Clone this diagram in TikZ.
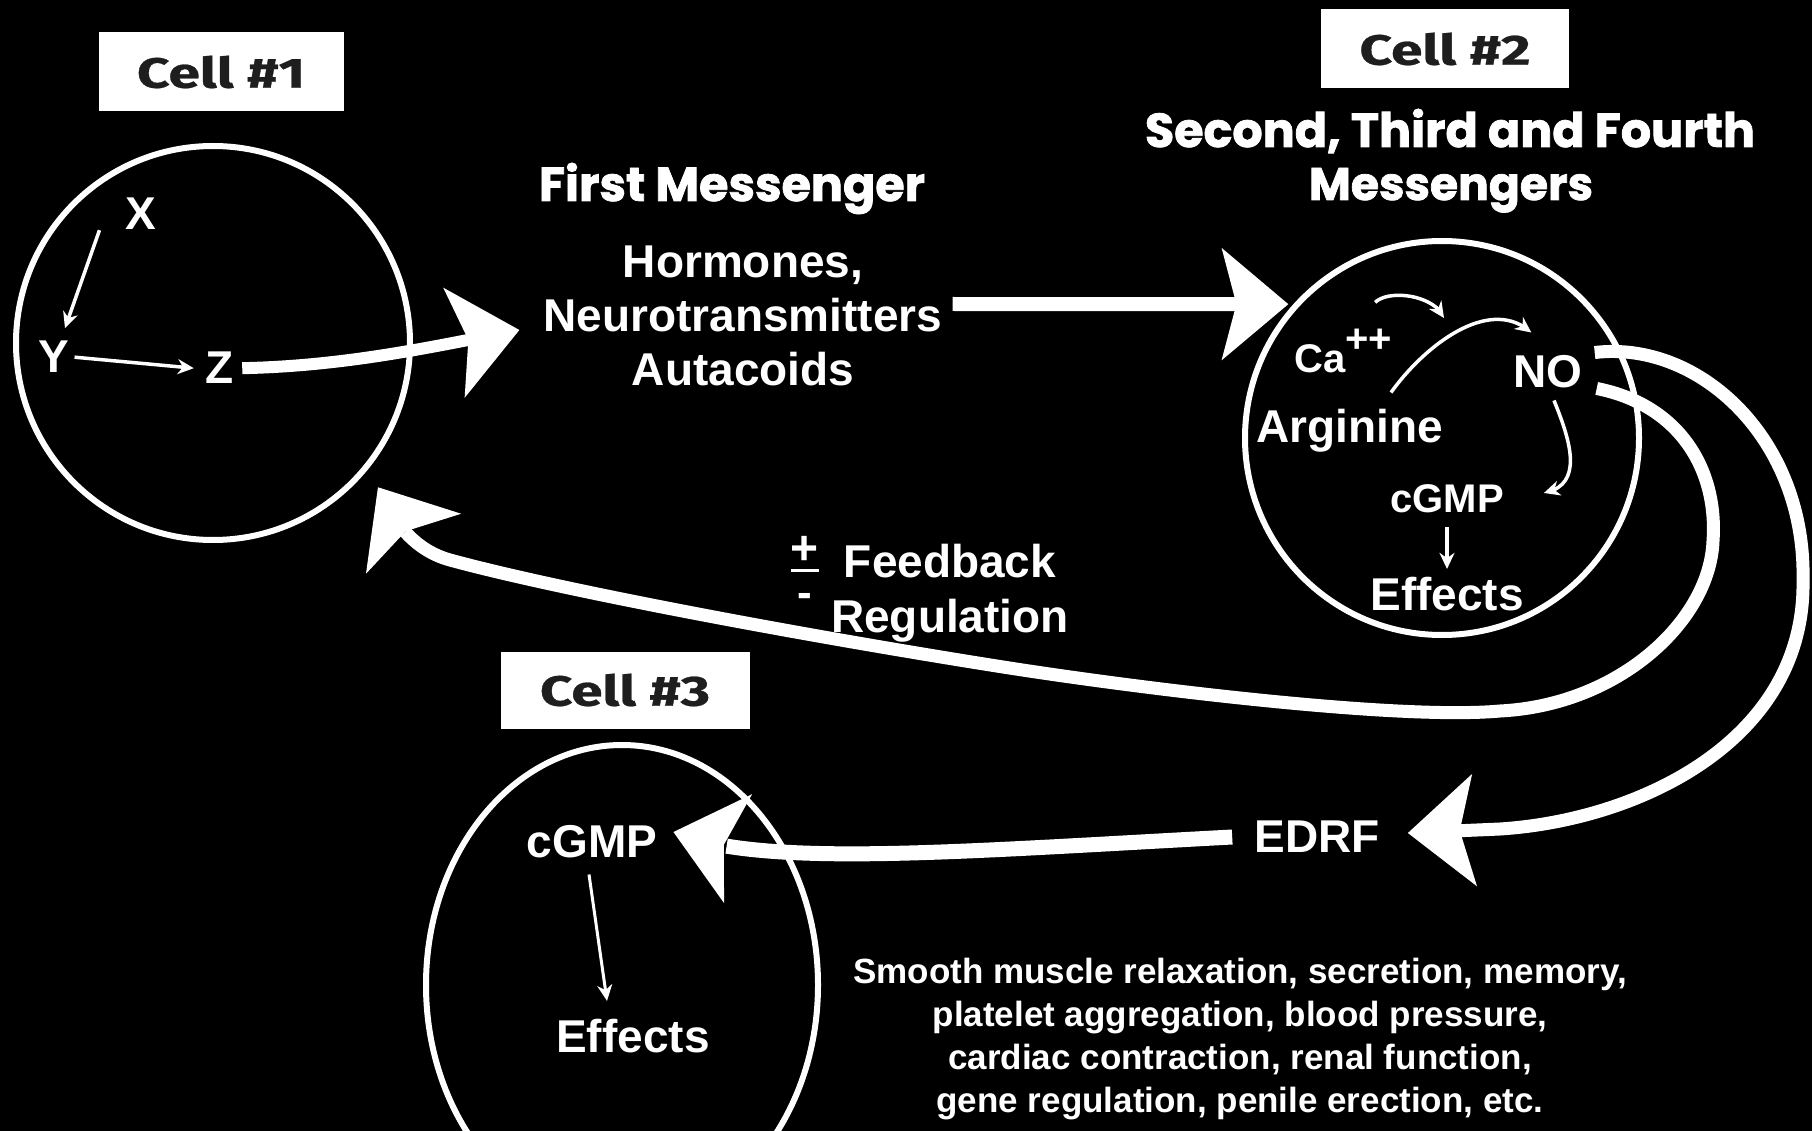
\documentclass[tikz,border=0pt]{standalone}
\usepackage{fontspec}
\setmainfont{Liberation Sans}
\newfontfamily\heavyfont{Poppins}[BoldFeatures={FakeBold=1.6}]
\newfontfamily\cellfont{Fira Sans}[BoldFeatures={FakeBold=0.6}]
\usetikzlibrary{arrows.meta,bending,shapes.geometric}
\definecolor{labelgray}{HTML}{1E1E1E}
\begin{document}
\begin{tikzpicture}[x=1pt,y=-1pt,
  txt/.style={text=white,inner sep=0pt,font=\bfseries\fontsize{46}{54}\selectfont},
  smalltxt/.style={text=white,inner sep=0pt,font=\bfseries\fontsize{40}{48}\selectfont},
  fxtxt/.style={text=white,inner sep=0pt,align=center,font=\bfseries\fontsize{35}{43}\selectfont},
  headtxt/.style={text=white,inner sep=0pt,font=\heavyfont\bfseries},
  cellbox/.style={fill=white,minimum width=245pt,minimum height=79pt,inner sep=0pt,text=labelgray,font=\cellfont\bfseries},
  ring/.style={draw=white,line width=6pt,circle,minimum size=394pt,inner sep=0pt},
  bigarrow/.style={draw=white,line width=14pt,-{Stealth[length=66pt,width=110pt,inset=14pt]}},
  thinarrow/.style={draw=white,line width=3.5pt,-{Stealth[length=16pt,width=15pt]}},
]
\useasboundingbox (0,0) rectangle (1812,1131);
\clip (0,0) rectangle (1812,1131);
\fill[black] (0,0) rectangle (1812,1131);

% cells
\node[ring] (c1) at (213,343) {};
\node[ring] (c2) at (1442,438) {};
\node[ring,ellipse,minimum width=392pt,minimum height=480pt] (c3) at (622,985) {};

% cell labels
\node[cellbox] (L1) at (221,72) {\resizebox{168pt}{32pt}{Cell \#1}};
\node[cellbox,minimum width=248pt] (L2) at (1445,49) {\resizebox{171pt}{32pt}{Cell \#2}};
\node[cellbox,minimum width=249pt,minimum height=77pt] (L3) at (625,690) {\resizebox{170pt}{32pt}{Cell \#3}};

% headers
\node[headtxt,anchor=base] (fm) at (732,201) {\resizebox{386pt}{!}{First Messenger}};
\node[headtxt,anchor=base] (stf) at (1450,147) {\resizebox{610pt}{!}{Second, Third and Fourth}};
\node[headtxt,anchor=base] (ms) at (1451,200) {\resizebox{284pt}{!}{Messengers}};

% cell 1
\node[txt,anchor=base] (X) at (141,230) {X};
\node[txt,anchor=base] (Y) at (54,373) {Y};
\node[txt,anchor=base] (Z) at (220,384) {Z};
\draw[thinarrow] ([xshift=-26pt]X.south west) -- ([shift={(11,-13)}]Y.north);
\draw[thinarrow] ([xshift=5pt]Y.east) -- ([xshift=-12pt]Z.west);

% first messenger
\node[txt,align=center] (msg) at (743,316) {Hormones,\\Neurotransmitters\\Autacoids};
\draw[bigarrow,line width=12pt] ([xshift=8pt]Z.east) .. controls (350,366) and (440,345) .. ([shift={(-24,14)}]msg.west);
\draw[bigarrow] ([shift={(10,-12)}]msg.east) -- ([xshift=-5pt]c2.138);

% cell 2
\node[smalltxt,anchor=base west] (Ca) at (1294,373) {Ca\raisebox{20pt}{\fontsize{40}{40}\selectfont ++}};
\node[txt,anchor=base] (Arg) at (1350,442) {Arginine};
\node[txt] (NO) at (1548,372) {NO};
\node[smalltxt] (cg2) at (1447,499) {cGMP};
\node[txt] (ef2) at (1447,594) {Effects};
\coordinate (rxn) at (1444,318);
\draw[thinarrow] ([shift={(32,-27)}]Ca.north) .. controls +(15,-14) and +(-8,-22) .. (rxn);
\draw[thinarrow] ([shift={(41,-16)}]Arg.north) .. controls (1425,345) and (1490,295) .. ([shift={(18,-23)}]NO.north west);
\draw[thinarrow] ([shift={(6,12)}]NO.south) .. controls (1570,440) and (1585,485) .. ([shift={(40,-6)}]cg2.east);
\draw[thinarrow] ([yshift=-14pt]cg2.south) -- ([yshift=8pt]ef2.north);

% feedback
\node[txt] (fb) at (950,561) {Feedback};
\node[txt,anchor=base] (reg) at (950,632) {Regulation};
\node[txt,font=\bfseries\fontsize{48}{48}\selectfont] (plus) at (805,550) {+};
\draw[white,line width=3.5pt] ([yshift=-6pt]plus.south west) -- ([yshift=-6pt]plus.south east);
\node[txt,font=\bfseries\fontsize{44}{44}\selectfont] (minus) at (805,600) {-};
\draw[bigarrow,line width=13pt] ([xshift=14pt]NO.south east) .. controls (1680,405) and (1718,470) .. (1713,541) .. controls (1710,620) and (1620,705) .. (1500,711) .. controls (1400,720) and (1150,690) .. (1003,667) .. controls (800,635) and (560,590) .. (450,560) .. controls (410,549) and (390,515) .. ([shift={(14,13)}]c1.-41.5);

% EDRF
\node[txt] (EDRF) at (1317,837) {EDRF};
\draw[bigarrow,line width=13pt] ([shift={(12,-3)}]NO.north east) .. controls (1700,340) and (1806,440) .. (1803,580) .. controls (1806,740) and (1640,820) .. (1500,829) -- ([shift={(28,-4)}]EDRF.east);

% cell 3
\node[txt] (cg3) at (592,842) {cGMP};
\node[txt] (ef3) at (633,1036) {Effects};
\draw[bigarrow,line width=15pt] ([xshift=-22pt]EDRF.west) .. controls (950,852) and (760,868) .. ([shift={(16,-10)}]cg3.east);
\draw[thinarrow,line width=3pt] ([shift={(-3,16)}]cg3.south) -- ([shift={(-26,-18)}]ef3.north);

% effects list
\node[fxtxt] (fx) at (1240,1039) {Smooth muscle relaxation, secretion, memory,\\platelet aggregation, blood pressure,\\cardiac contraction, renal function,\\gene regulation, penile erection, etc.};
\end{tikzpicture}
\end{document}
